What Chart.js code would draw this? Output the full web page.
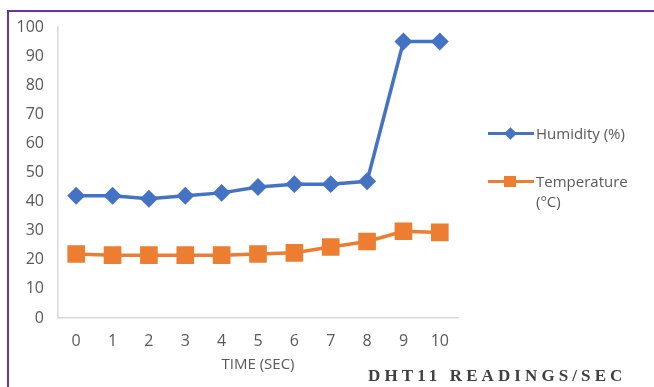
<!DOCTYPE html>
<html>
<head>
<meta charset="utf-8">
<script src="https://cdn.jsdelivr.net/npm/chart.js@4"></script>
<style>
  html, body { margin: 0; padding: 0; background: #fff; }
  #wrap { position: relative; width: 654px; height: 387px; overflow: hidden; }
  #frame { position: absolute; left: 7px; top: 10px; width: 700px; height: 400px;
           border-top: 2px solid #7030A0; border-left: 2px solid #7030A0; }
  canvas { position: absolute; left: 0; top: 0; }
  .leg { position: absolute; left: 488px; font: 15px "Open Sans", sans-serif; color: #595959; line-height: 20px; }
  .leg .ln { position: absolute; left: 0; width: 46px; height: 3px; }
  .leg .mk { position: absolute; }
  .leg .tx { position: absolute; left: 48px; white-space: nowrap; }
  #title { position: absolute; left: 368px; top: 366px; font: bold 17px "Liberation Serif", serif;
           letter-spacing: 4.1px; color: #404040; white-space: nowrap; }
</style>
</head>
<body>
<div id="wrap">
  <div id="frame"></div>
  <canvas id="myChart" width="654" height="387"></canvas>
  <div class="leg" style="top:123px">
    <div class="ln" style="top:9px;background:#4472C4"></div>
    <div class="mk" style="left:18px;top:6px;width:9px;height:9px;background:#4472C4;transform:rotate(45deg)"></div>
    <div class="tx" style="top:0">Humidity (%)</div>
  </div>
  <div class="leg" style="top:171px">
    <div class="ln" style="top:9px;background:#ED7D31"></div>
    <div class="mk" style="left:16px;top:5px;width:12px;height:11px;background:#ED7D31"></div>
    <div class="tx" style="top:0">Temperature<br>(°C)</div>
  </div>
  <div id="title">DHT11 READINGS/SEC</div>
</div>
<script>
const times = ["0", "1", "2", "3", "4", "5", "6", "7", "8", "9", "10"];
const humidity = [42, 42, 41, 42, 43, 45, 46, 46, 47, 95, 95];
const temperature = [22, 21.6, 21.6, 21.6, 21.6, 22, 22.4, 24.4, 26.3, 29.8, 29.4];
const yTicks = [0, 10, 20, 30, 40, 50, 60, 70, 80, 90, 100];

const tickFont = { family: "Open Sans", size: 16 };
const ctx = document.getElementById("myChart").getContext("2d");

new Chart(ctx, {
  type: "line",
  data: {
    labels: times,
    datasets: [
      {
        label: "Humidity (%)",
        data: humidity,
        borderColor: "#4472C4",
        backgroundColor: "#4472C4",
        borderWidth: 3.5,
        pointStyle: "rectRot",
        pointRadius: 6.5,
        pointHoverRadius: 6.5,
        tension: 0,
      },
      {
        label: "Temperature (°C)",
        data: temperature,
        borderColor: "#ED7D31",
        backgroundColor: "#ED7D31",
        borderWidth: 3.5,
        pointStyle: "rect",
        pointRadius: 10,
        pointHoverRadius: 10,
        tension: 0,
      },
    ],
  },
  options: {
    responsive: false,
    animation: false,
    layout: { padding: { left: 10, right: 196, top: 27, bottom: 13 } },
    plugins: { legend: { display: false }, tooltip: { enabled: false } },
    scales: {
      x: {
        offset: true,
        grid: { display: false, drawTicks: false },
        border: { color: "#D9D9D9", width: 1.5 },
        ticks: { color: "#595959", font: tickFont, padding: 14, maxRotation: 0 },
        title: { display: true, text: "TIME (SEC)", color: "#595959",
                 font: { family: "Open Sans", size: 15 }, padding: 0 },
        afterFit: (s) => { s.height = 56; },
      },
      y: {
        min: 0,
        max: 100,
        afterBuildTicks: (s) => { s.ticks = yTicks.map((v) => ({ value: v })); },
        grid: { display: false, drawTicks: false },
        border: { color: "#D9D9D9", width: 1.5 },
        ticks: { color: "#595959", font: tickFont, padding: 14 },
        afterFit: (s) => { s.width = 48; },
      },
    },
  },
});
</script>
</body>
</html>
